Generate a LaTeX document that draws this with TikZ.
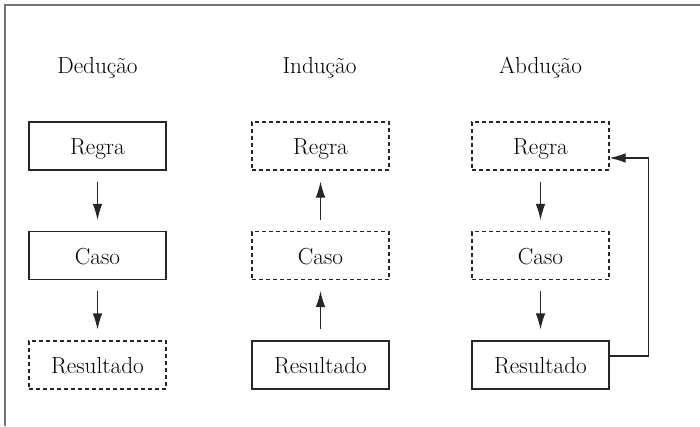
\documentclass[tikz,border=0pt]{standalone}
\usepackage{fontspec}
\usetikzlibrary{arrows.meta,calc}
\begin{document}
\begin{tikzpicture}[x=1bp,y=-1bp,
  every node/.style={font=\fontsize{23.3}{27}\selectfont, text=black},
  solidbox/.style={draw=black!85, line width=1.1bp, minimum width=137bp, minimum height=48bp, inner sep=0pt, text height=17bp, text depth=0bp},
  dashbox/.style={solidbox, dash pattern=on 4bp off 3bp},
  title/.style={anchor=base},
  flow/.style={draw=black!85, line width=1.1bp, -{Latex[length=16bp,width=9.5bp]}, shorten <=11bp, shorten >=11bp},
  fb/.style={draw=black!85, line width=1.1bp, -{Latex[length=16bp,width=9.5bp]}}
]
\useasboundingbox (0,0) rectangle (700,426);
\draw[black!55, line width=1.4bp] (5,426) -- (5,5) -- (700,5);

% titles
\node[title] (t1) at (97.5,73) {Dedução};
\node[title] (t2) at (319.5,73) {Indução};
\node[title] (t3) at (540.5,73) {Abdução};

% Deducao
\node[solidbox] (r1) at (97.5,146) {Regra};
\node[solidbox] (c1) at (97.5,255.5) {Caso};
\node[dashbox] (s1) at (97.5,365) {Resultado};
\draw[flow] (r1.south) -- (c1.north);
\draw[flow] (c1.south) -- (s1.north);

% Inducao
\node[dashbox] (r2) at (320.5,146) {Regra};
\node[dashbox] (c2) at (320.5,255.5) {Caso};
\node[solidbox] (s2) at (320.5,365) {Resultado};
\draw[flow] (s2.north) -- (c2.south);
\draw[flow] (c2.north) -- (r2.south);

% Abducao
\node[dashbox] (r3) at (540.5,146) {Regra};
\node[dashbox] (c3) at (540.5,255.5) {Caso};
\node[solidbox] (s3) at (540.5,365) {Resultado};
\draw[flow] (r3.south) -- (c3.north);
\draw[flow] (c3.south) -- (s3.north);
\coordinate (fbs) at ($(s3.east)+(0,-9)$);
\coordinate (fbe) at ($(r3.east)+(0,12)$);
\draw[fb] (fbs) -- ++(39,0) |- (fbe);
\end{tikzpicture}
\end{document}
